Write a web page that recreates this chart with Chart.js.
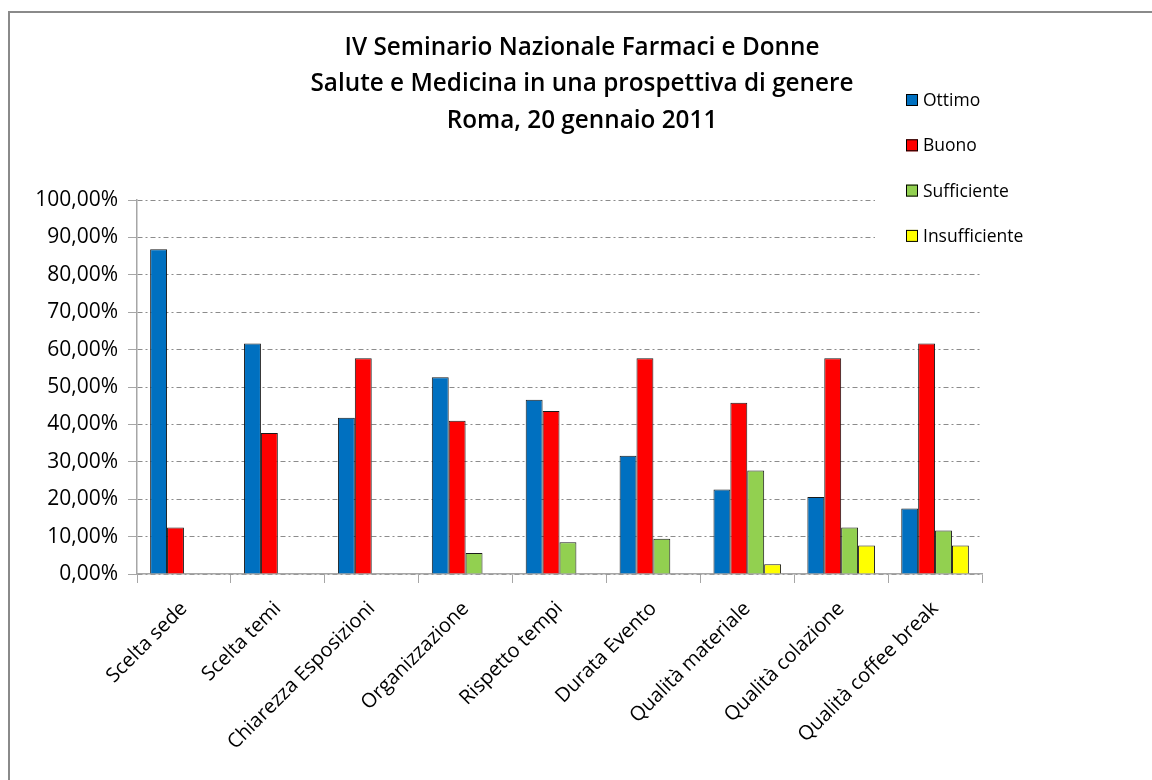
<!DOCTYPE html>
<html>
<head>
<meta charset="utf-8">
<script src="https://cdn.jsdelivr.net/npm/chart.js@4.4.1/dist/chart.umd.min.js"></script>
<style>
  html, body { margin: 0; padding: 0; background: #fff; }
  #wrap { width: 1152px; height: 780px; position: relative; }
</style>
</head>
<body>
<div id="wrap"><canvas id="chart" width="1152" height="780"></canvas></div>
<script>
// === DATI ===
const categorie = [
  'Scelta sede', 'Scelta temi', 'Chiarezza Esposizioni', 'Organizzazione',
  'Rispetto tempi', 'Durata Evento', 'Qualità materiale', 'Qualità colazione',
  'Qualità coffee break'
];
const ottimo = [86.8, 61.6, 41.8, 52.6, 46.6, 31.6, 22.6, 20.6, 17.5];
const buono = [12.4, 37.7, 57.7, 41.0, 43.6, 57.7, 45.8, 57.7, 61.6];
const sufficiente = [null, null, null, 5.6, 8.5, 9.4, 27.7, 12.4, 11.6];
const insufficiente = [null, null, null, null, null, null, 2.6, 7.6, 7.6];
const titolo = [
  'IV Seminario Nazionale Farmaci e Donne',
  'Salute e Medicina in una prospettiva di genere',
  'Roma, 20 gennaio 2011'
];

const FONT = '"Open Sans", Lato, sans-serif';

// sfondo, cornice grigia e titolo
const cornice = {
  id: 'cornice',
  beforeDraw(chart) {
    const c = chart.ctx;
    c.save();
    c.fillStyle = '#fff';
    c.fillRect(0, 0, chart.width, chart.height);
    c.fillStyle = '#8a8a8a';
    c.fillRect(8, 11, chart.width - 8, 2);
    c.fillRect(8, 11, 2, chart.height - 11);
    c.fillStyle = '#000';
    c.font = '600 24.3px ' + FONT;
    c.textAlign = 'center';
    c.textBaseline = 'middle';
    titolo.forEach((riga, i) => c.fillText(riga, 582, 48 + i * 36.5));
    c.restore();
  }
};

// legenda sopra l'area del grafico (copre le griglie in alto)
const legenda = {
  id: 'legenda',
  afterDraw(chart) {
    const c = chart.ctx;
    c.save();
    c.fillStyle = '#fff';
    c.fillRect(875, 80, 175, 172);
    c.font = '17.5px ' + FONT;
    c.textBaseline = 'middle';
    chart.data.datasets.forEach((ds, i) => {
      const y = 100 + i * 45.3;
      c.fillStyle = ds.backgroundColor;
      c.fillRect(906, y - 6, 12, 12);
      c.strokeStyle = '#000';
      c.lineWidth = 1;
      c.strokeRect(906.5, y - 5.5, 11, 11);
      c.fillStyle = '#000';
      c.fillText(ds.label, 923, y + 1);
    });
    c.restore();
  }
};

const serie = (label, data, colore) => ({
  label, data,
  backgroundColor: colore,
  borderColor: '#1a1a1a',
  borderWidth: 1,
  borderSkipped: 'bottom',
  categoryPercentage: 0.72,
  barPercentage: 1
});

new Chart(document.getElementById('chart'), {
  type: 'bar',
  data: {
    labels: categorie,
    datasets: [
      serie('Ottimo', ottimo, '#0070C0'),
      serie('Buono', buono, '#FF0000'),
      serie('Sufficiente', sufficiente, '#92D050'),
      serie('Insufficiente', insufficiente, '#FFFF00')
    ]
  },
  options: {
    responsive: false,
    animation: false,
    layout: { padding: { left: 12, right: 170, top: 200, bottom: 0 } },
    plugins: {
      legend: { display: false },
      tooltip: { enabled: false },
      title: { display: false }
    },
    scales: {
      x: {
        afterFit(s) { s.height = 206; },
        grid: { drawOnChartArea: false, drawTicks: true, tickLength: 9, tickColor: '#a6a6a6', offset: true },
        border: { color: '#a6a6a6', width: 1.5 },
        ticks: {
          color: '#000',
          font: { family: FONT, size: 20 },
          minRotation: 45, maxRotation: 45,
          padding: 14
        }
      },
      y: {
        min: 0, max: 100,
        afterFit(s) { s.width = 125; },
        grid: {
          color: '#8c8c8c',
          tickLength: 9,
          tickColor: '#a6a6a6',
          tickBorderDash: []
        },
        border: { color: '#a6a6a6', width: 1.5, dash: [5, 3, 2, 3] },
        ticks: {
          stepSize: 10,
          color: '#000',
          font: { family: FONT, size: 21 },
          padding: 10,
          callback: v => v.toFixed(2).replace('.', ',') + '%'
        }
      }
    }
  },
  plugins: [cornice, legenda]
});
</script>
</body>
</html>
